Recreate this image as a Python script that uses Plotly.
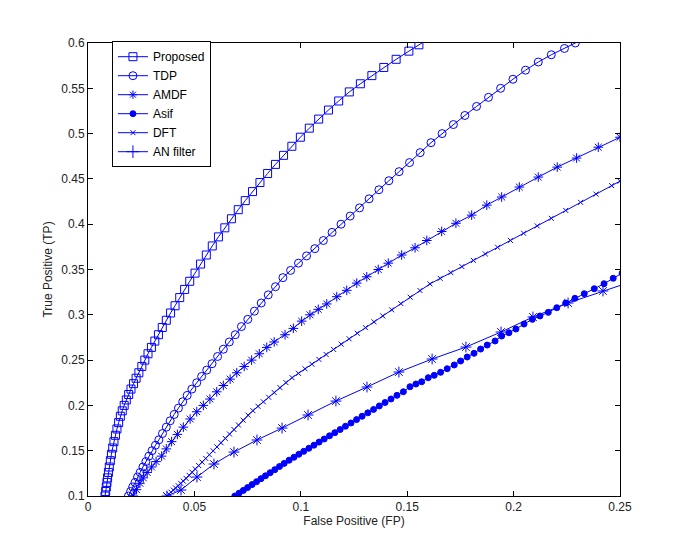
import plotly.graph_objects as go

# ---------------- data ----------------
proposed_x = [0.0080, 0.0083, 0.0086, 0.0089, 0.0092, 0.0096, 0.0100, 0.0105, 0.0110, 0.0116,
              0.0122, 0.0129, 0.0136, 0.0144, 0.0152, 0.0161, 0.0170, 0.0180, 0.0191, 0.0202,
              0.0214, 0.0226, 0.0239, 0.0253, 0.0267, 0.0282, 0.0298, 0.0314, 0.0331, 0.0349,
              0.0368, 0.0388, 0.0409, 0.0431, 0.0454, 0.0478, 0.0503, 0.0529, 0.0556, 0.0584,
              0.0613, 0.0643, 0.0674, 0.0706, 0.0739, 0.0773, 0.0808, 0.0844, 0.0881, 0.0919,
              0.0958, 0.0998, 0.1040, 0.1084, 0.1130, 0.1178, 0.1228, 0.1280, 0.1334, 0.1390,
              0.1448, 0.1508, 0.1555, 0.1610]
proposed_y = [0.100, 0.105, 0.110, 0.115, 0.120, 0.126, 0.132, 0.139, 0.146, 0.153,
              0.160, 0.167, 0.174, 0.181, 0.188, 0.194, 0.200, 0.206, 0.212, 0.218,
              0.224, 0.230, 0.236, 0.243, 0.250, 0.257, 0.264, 0.271, 0.278, 0.286,
              0.294, 0.302, 0.310, 0.319, 0.328, 0.337, 0.346, 0.356, 0.366, 0.376,
              0.386, 0.396, 0.406, 0.416, 0.426, 0.436, 0.446, 0.456, 0.466, 0.476,
              0.486, 0.496, 0.506, 0.516, 0.526, 0.536, 0.546, 0.555, 0.564, 0.573,
              0.582, 0.591, 0.598, 0.606]

tdp_x = [0.0190, 0.0200, 0.0210, 0.0221, 0.0233, 0.0245, 0.0258, 0.0272, 0.0286, 0.0301,
         0.0317, 0.0333, 0.0350, 0.0368, 0.0386, 0.0405, 0.0425, 0.0445, 0.0466, 0.0488,
         0.0511, 0.0534, 0.0558, 0.0583, 0.0609, 0.0636, 0.0664, 0.0692, 0.0721, 0.0751,
         0.0782, 0.0814, 0.0847, 0.0881, 0.0916, 0.0952, 0.0989, 0.1027, 0.1066, 0.1106,
         0.1147, 0.1189, 0.1232, 0.1276, 0.1321, 0.1367, 0.1414, 0.1462, 0.1511, 0.1561,
         0.1612, 0.1664, 0.1717, 0.1771, 0.1826, 0.1882, 0.1939, 0.1997, 0.2056, 0.2116,
         0.2177, 0.2239, 0.2290, 0.2350]
tdp_y = [0.100, 0.105, 0.110, 0.115, 0.121, 0.126, 0.132, 0.138, 0.144, 0.150,
         0.156, 0.162, 0.169, 0.176, 0.183, 0.190, 0.197, 0.204, 0.211, 0.218,
         0.225, 0.232, 0.239, 0.246, 0.254, 0.262, 0.270, 0.278, 0.287, 0.295,
         0.304, 0.313, 0.322, 0.331, 0.341, 0.349, 0.357, 0.365, 0.373, 0.382,
         0.391, 0.400, 0.409, 0.418, 0.428, 0.438, 0.448, 0.458, 0.468, 0.479,
         0.490, 0.500, 0.510, 0.520, 0.530, 0.540, 0.550, 0.560, 0.570, 0.579,
         0.587, 0.594, 0.600, 0.607]

dft_x = [0.0213, 0.0228, 0.0244, 0.0260, 0.0278, 0.0299, 0.0320, 0.0346, 0.0368, 0.0393,
         0.0420, 0.0448, 0.0480, 0.0511, 0.0542, 0.0573, 0.0605, 0.0636, 0.0668, 0.0699,
         0.0734, 0.0769, 0.0805, 0.0840, 0.0875, 0.0926, 0.0965, 0.1004, 0.1043, 0.1082,
         0.1122, 0.1169, 0.1216, 0.1263, 0.1310, 0.1364, 0.1411, 0.1474, 0.1537, 0.1592,
         0.1662, 0.1729, 0.1803, 0.1874, 0.1944, 0.2027, 0.2116, 0.2205, 0.2296, 0.2398,
         0.2500]
dft_y = [0.100, 0.107, 0.114, 0.120, 0.126, 0.132, 0.138, 0.144, 0.152, 0.160,
         0.168, 0.176, 0.185, 0.193, 0.200, 0.207, 0.215, 0.222, 0.229, 0.236,
         0.243, 0.250, 0.257, 0.264, 0.270, 0.278, 0.285, 0.293, 0.300, 0.306,
         0.312, 0.320, 0.327, 0.335, 0.342, 0.350, 0.357, 0.366, 0.374, 0.382,
         0.392, 0.401, 0.410, 0.421, 0.430, 0.441, 0.452, 0.463, 0.473, 0.485,
         0.496]

an_x = [0.0370, 0.0380, 0.0390, 0.0401, 0.0412, 0.0424, 0.0436, 0.0448, 0.0461, 0.0475,
        0.0489, 0.0504, 0.0520, 0.0536, 0.0553, 0.0570, 0.0588, 0.0606, 0.0625, 0.0645,
        0.0665, 0.0686, 0.0707, 0.0729, 0.0752, 0.0775, 0.0799, 0.0824, 0.0849, 0.0875,
        0.0902, 0.0930, 0.0959, 0.0989, 0.1020, 0.1052, 0.1085, 0.1119, 0.1154, 0.1190,
        0.1227, 0.1265, 0.1304, 0.1344, 0.1385, 0.1427, 0.1470, 0.1514, 0.1560, 0.1607,
        0.1655, 0.1705, 0.1757, 0.1811, 0.1867, 0.1925, 0.1985, 0.2047, 0.2111, 0.2177,
        0.2245, 0.2315, 0.2387, 0.2461, 0.2500]
an_y = [0.1000, 0.1021, 0.1042, 0.1065, 0.1088, 0.1113, 0.1139, 0.1164, 0.1194, 0.1228,
        0.1262, 0.1298, 0.1336, 0.1374, 0.1415, 0.1456, 0.1499, 0.1542, 0.1588, 0.1636,
        0.1684, 0.1734, 0.1784, 0.1837, 0.1892, 0.1942, 0.1990, 0.2040, 0.2090, 0.2142,
        0.2196, 0.2252, 0.2306, 0.2354, 0.2404, 0.2455, 0.2508, 0.2562, 0.2618, 0.2676,
        0.2735, 0.2796, 0.2858, 0.2922, 0.2988, 0.3055, 0.3124, 0.3194, 0.3268, 0.3341,
        0.3402, 0.3466, 0.3532, 0.3600, 0.3672, 0.3745, 0.3821, 0.3900, 0.3981, 0.4065,
        0.4152, 0.4241, 0.4332, 0.4426, 0.4475]

amdf_x = [0.0371, 0.0437, 0.0512, 0.0592, 0.0686, 0.0794, 0.0912, 0.1034, 0.1165, 0.1311,
          0.1461, 0.1617, 0.1776, 0.1941, 0.2091, 0.2256, 0.2420, 0.2584]
amdf_y = [0.1000, 0.1066, 0.1209, 0.1353, 0.1485, 0.1618, 0.1750, 0.1894, 0.2048, 0.2203,
          0.2368, 0.2512, 0.2644, 0.2810, 0.2976, 0.3130, 0.3263, 0.3390]

asif_x = [0.0690, 0.0710, 0.0730, 0.0750, 0.0771, 0.0792, 0.0813, 0.0834, 0.0856, 0.0878,
          0.0900, 0.0922, 0.0945, 0.0968, 0.0991, 0.1014, 0.1038, 0.1062, 0.1086, 0.1110,
          0.1135, 0.1160, 0.1185, 0.1210, 0.1236, 0.1262, 0.1288, 0.1315, 0.1342, 0.1369,
          0.1396, 0.1424, 0.1452, 0.1482, 0.1513, 0.1541, 0.1568, 0.1599, 0.1627, 0.1657,
          0.1688, 0.1721, 0.1751, 0.1782, 0.1814, 0.1845, 0.1876, 0.1913, 0.1944, 0.1978,
          0.2011, 0.2049, 0.2088, 0.2124, 0.2163, 0.2203, 0.2245, 0.2288, 0.2332, 0.2379,
          0.2425, 0.2468, 0.2510]
asif_y = [0.1000, 0.1031, 0.1062, 0.1093, 0.1126, 0.1158, 0.1191, 0.1223, 0.1257, 0.1291,
          0.1326, 0.1360, 0.1395, 0.1428, 0.1461, 0.1493, 0.1527, 0.1561, 0.1595, 0.1629,
          0.1664, 0.1699, 0.1734, 0.1770, 0.1806, 0.1843, 0.1880, 0.1918, 0.1956, 0.1994,
          0.2032, 0.2071, 0.2111, 0.2151, 0.2206, 0.2236, 0.2261, 0.2306, 0.2332, 0.2365,
          0.2405, 0.2446, 0.2490, 0.2534, 0.2575, 0.2622, 0.2666, 0.2711, 0.2766, 0.2802,
          0.2843, 0.2898, 0.2950, 0.2987, 0.3027, 0.3078, 0.3130, 0.3182, 0.3233, 0.3288,
          0.3343, 0.3403, 0.3460]

x_ticks = [0, 0.05, 0.1, 0.15, 0.2, 0.25]
x_tick_labels = ["0", "0.05", "0.1", "0.15", "0.2", "0.25"]
y_ticks = [0.1, 0.15, 0.2, 0.25, 0.3, 0.35, 0.4, 0.45, 0.5, 0.55, 0.6]
y_tick_labels = ["0.1", "0.15", "0.2", "0.25", "0.3", "0.35", "0.4", "0.45", "0.5", "0.55", "0.6"]

legend_names = ["Proposed", "TDP", "AMDF", "Asif", "DFT", "AN filter"]
legend_symbols = ["square-open", "circle-open", "asterisk-open", "circle", "x-thin-open", "cross-thin-open"]
legend_sizes = [8, 8, 7, 6, 5, 9]

BLUE = "#0000FF"
FONT = "Liberation Sans, Arial, sans-serif"

fig = go.Figure()

curves = [
    (proposed_x, proposed_y, "square-open", 8),
    (tdp_x, tdp_y, "circle-open", 8),
    (dft_x, dft_y, "asterisk-open", 8),
    (an_x, an_y, "x-thin-open", 5),
    (amdf_x, amdf_y, "asterisk-open", 9),
    (asif_x, asif_y, "circle", 6),
]
for xs, ys, sym, sz in curves:
    fig.add_trace(go.Scatter(
        x=xs, y=ys, mode="lines+markers", showlegend=False,
        line=dict(color=BLUE, width=1),
        marker=dict(symbol=sym, size=sz, color=BLUE, line=dict(color=BLUE, width=1)),
    ))

for name, sym, sz in zip(legend_names, legend_symbols, legend_sizes):
    fig.add_trace(go.Scatter(
        x=[None], y=[None], mode="lines+markers", name=name,
        line=dict(color=BLUE, width=1),
        marker=dict(symbol=sym, size=sz, color=BLUE, line=dict(color=BLUE, width=1)),
    ))

axis_common = dict(
    showline=True, linecolor="black", linewidth=1, mirror="allticks",
    ticks="inside", ticklen=5, tickcolor="black", tickwidth=1,
    showgrid=False, zeroline=False, automargin=False,
    tickfont=dict(family=FONT, size=12, color="#222222"),
)

# the page body adds an 8px offset, so the figure is 8px smaller on each side
fig.update_layout(
    width=677, height=550,
    margin=dict(l=80, r=65, t=35, b=62),
    paper_bgcolor="white", plot_bgcolor="white",
    font=dict(family=FONT, size=12, color="black"),
    legend=dict(
        x=0.045, y=1.004, xanchor="left", yanchor="top",
        bordercolor="black", borderwidth=1, bgcolor="white",
        font=dict(family=FONT, size=12, color="black"),
        tracegroupgap=0, itemwidth=30,
    ),
    xaxis=dict(
        range=[0, 0.25], tickvals=x_ticks, ticktext=x_tick_labels,
        title=dict(text="False Positive (FP)", standoff=2,
                   font=dict(family=FONT, size=12, color="#222222")),
        **axis_common,
    ),
    yaxis=dict(
        range=[0.1, 0.6], tickvals=y_ticks, ticktext=y_tick_labels,
        title=dict(text="True Positive (TP)", standoff=6,
                   font=dict(family=FONT, size=12, color="#222222")),
        **axis_common,
    ),
)

fig.write_html("out.html")
